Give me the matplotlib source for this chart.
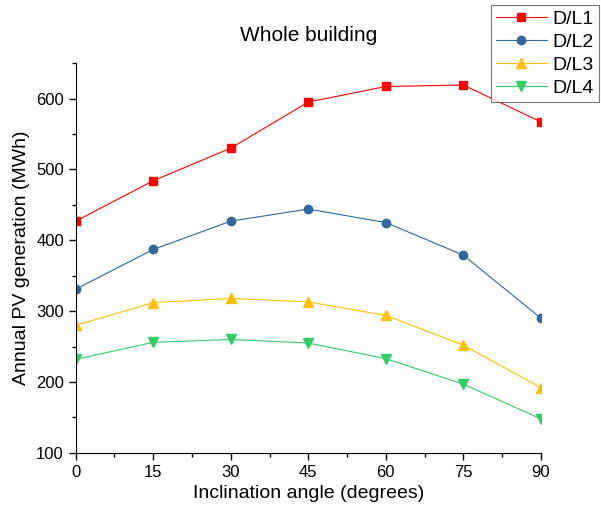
import numpy as np
import matplotlib.pyplot as plt
from matplotlib.ticker import MultipleLocator

plt.rcParams['font.family'] = ['Liberation Sans', 'DejaVu Sans']

# Dados
angles = [0, 15, 30, 45, 60, 75, 90]
dl1 = [427, 484, 530, 595, 617, 619, 567]
dl2 = [331, 387, 427, 444, 425, 379, 290]
dl3 = [280, 312, 318, 313, 294, 252, 192]
dl4 = [232, 256, 260, 255, 233, 197, 148]
labels = ["D/L1", "D/L2", "D/L3", "D/L4"]

fig = plt.figure(figsize=(6.01, 5.17), dpi=100)
ax = fig.add_axes([0.126, 0.124, 0.774, 0.754])

ax.plot(angles, dl1, color="#FF0000", marker="s", markersize=5.5, linewidth=0.8, label=labels[0])
ax.plot(angles, dl2, color="#336699", marker="o", markersize=6, linewidth=0.8, label=labels[1])
ax.plot(angles, dl3, color="#FFC000", marker="^", markersize=7, linewidth=0.8, label=labels[2])
ax.plot(angles, dl4, color="#33CC66", marker="v", markersize=7, linewidth=0.8, label=labels[3])

ax.set_xlim(0, 90)
ax.set_ylim(100, 650)
ax.xaxis.set_major_locator(MultipleLocator(15))
ax.xaxis.set_minor_locator(MultipleLocator(7.5))
ax.yaxis.set_major_locator(MultipleLocator(100))
ax.yaxis.set_minor_locator(MultipleLocator(50))
ax.spines["top"].set_visible(False)
ax.spines["right"].set_visible(False)
ax.tick_params(which="major", direction="out", length=5, width=1, labelsize=12)
ax.tick_params(which="minor", direction="out", length=3, width=1)

ax.set_title("Whole building", fontsize=15, pad=16)
ax.set_xlabel("Inclination angle (degrees)", fontsize=14)
ax.set_ylabel("Annual PV generation (MWh)", fontsize=14)

leg = fig.legend(loc="upper right", bbox_to_anchor=(0.996, 0.99), fontsize=14,
                 frameon=True, fancybox=False, edgecolor="#555555", borderpad=0.25,
                 labelspacing=0.28, handlelength=2.6, handletextpad=0.3, borderaxespad=0)
leg.get_frame().set_linewidth(0.8)

plt.savefig("out.png", dpi=100)
